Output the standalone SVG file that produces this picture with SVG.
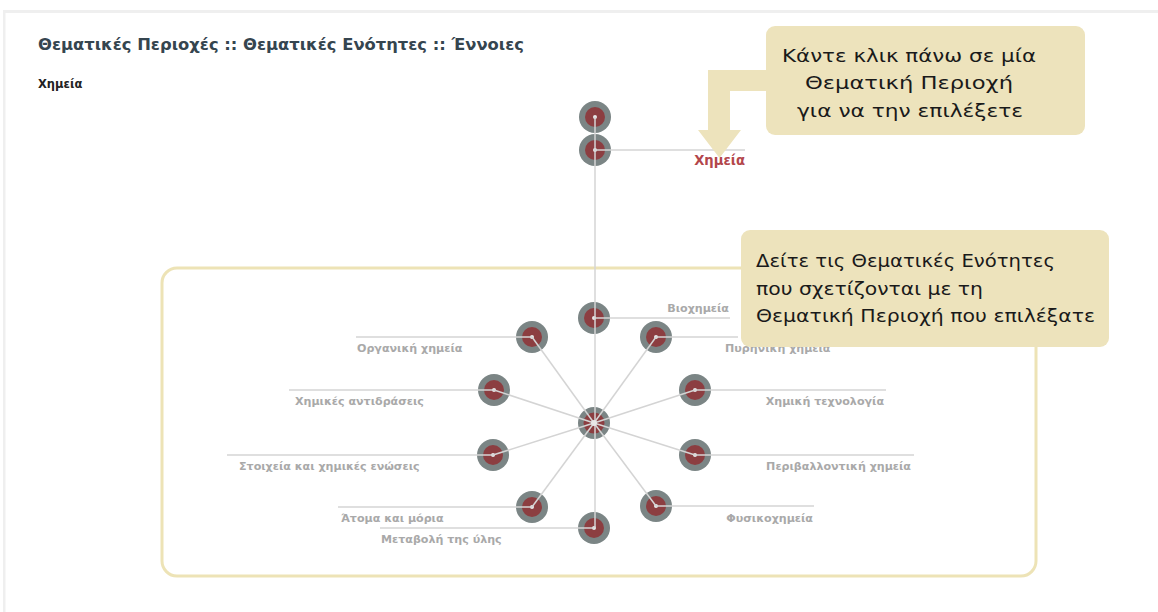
<svg xmlns="http://www.w3.org/2000/svg" width="1158" height="612" viewBox="0 0 1158 612">
<defs>
<style>
.lbl{font-family:"DejaVu Sans",Verdana,sans-serif;font-size:11.1px;font-weight:bold;fill:#a9a9a9}
.ln{stroke:#d4d4d4;stroke-width:1.5;fill:none}
.outer{fill:#7b8585}
.inner{fill:#8c3e41}
.dot{fill:#e8e8e8}
.callout{fill:#ede3bc}
.ct{font-family:"DejaVu Sans","Noto Sans",sans-serif;font-size:18px;fill:#1a1a1a}
</style>
<g id="nodeShape">
<circle r="16" class="outer"/>
<circle r="10" class="inner"/>
<circle r="2" class="dot"/>
</g>
</defs>
<rect width="1158" height="612" fill="#ffffff"/>
<rect x="3" y="10" width="1155" height="3" fill="#efefef"/>
<rect x="3" y="10" width="2.5" height="602" fill="#efefef"/>
<text x="38" y="50" font-family="'DejaVu Sans',Verdana,sans-serif" font-size="15" font-weight="bold" fill="#35454f" textLength="486" lengthAdjust="spacingAndGlyphs">Θεματικές Περιοχές :: Θεματικές Ενότητες :: Έννοιες</text>
<text x="38" y="88" font-family="'DejaVu Sans',Verdana,sans-serif" font-size="11.5" font-weight="bold" fill="#222">Χημεία</text>
<rect id="frame" x="162" y="268" width="874" height="308" rx="15" fill="none" stroke="#ede3b6" stroke-width="3"/>

<g id="nodes">
<g id="n-top"><use href="#nodeShape" x="595" y="117"/></g>
<g id="n-chem"><use href="#nodeShape" x="595" y="150"/><text x="745" y="165" text-anchor="end" font-family="'DejaVu Sans',Verdana,sans-serif" font-size="13.2" font-weight="bold" fill="#b3464b">Χημεία</text></g>
<g id="n-hub"><circle cx="594" cy="423" r="16" class="outer"/><circle cx="594" cy="423" r="10.5" class="inner"/></g>
<g id="n-bio"><use href="#nodeShape" x="594" y="318"/><text x="729" y="312" text-anchor="end" class="lbl">Βιοχημεία</text></g>
<g id="n-nuc"><use href="#nodeShape" x="656" y="337"/><text x="725" y="352" class="lbl">Πυρηνική χημεία</text></g>
<g id="n-tech"><use href="#nodeShape" x="695" y="390"/><text x="884" y="405" text-anchor="end" class="lbl">Χημική τεχνολογία</text></g>
<g id="n-env"><use href="#nodeShape" x="695" y="455"/><text x="911" y="470" text-anchor="end" class="lbl">Περιβαλλοντική χημεία</text></g>
<g id="n-phys"><use href="#nodeShape" x="656" y="506"/><text x="813" y="522" text-anchor="end" class="lbl">Φυσικοχημεία</text></g>
<g id="n-matter"><use href="#nodeShape" x="594" y="528"/><text x="381" y="543" class="lbl">Μεταβολή της ύλης</text></g>
<g id="n-atoms"><use href="#nodeShape" x="532" y="507"/><text x="341" y="522" class="lbl">Άτομα και μόρια</text></g>
<g id="n-elem"><use href="#nodeShape" x="493" y="455"/><text x="239" y="470" class="lbl">Στοιχεία και χημικές ενώσεις</text></g>
<g id="n-react"><use href="#nodeShape" x="494" y="390"/><text x="295" y="405" class="lbl">Χημικές αντιδράσεις</text></g>
<g id="n-org"><use href="#nodeShape" x="532" y="337"/><text x="357" y="352" class="lbl">Οργανική χημεία</text></g>
</g>

<g id="connectors" class="ln">
<line x1="595" y1="117" x2="595" y2="528"/>
<line x1="595" y1="150" x2="745" y2="150"/>
<line x1="594" y1="318" x2="730" y2="318"/>
<line x1="656" y1="337" x2="738" y2="337"/>
<line x1="695" y1="390" x2="886" y2="390"/>
<line x1="695" y1="455" x2="914" y2="455"/>
<line x1="656" y1="506" x2="814" y2="506"/>
<line x1="380" y1="528" x2="594" y2="528"/>
<line x1="338" y1="507" x2="532" y2="507"/>
<line x1="227" y1="455" x2="493" y2="455"/>
<line x1="289" y1="390" x2="494" y2="390"/>
<line x1="356" y1="337" x2="532" y2="337"/>
<line x1="594" y1="423" x2="656" y2="337"/>
<line x1="594" y1="423" x2="695" y2="390"/>
<line x1="594" y1="423" x2="695" y2="455"/>
<line x1="594" y1="423" x2="656" y2="506"/>
<line x1="594" y1="423" x2="532" y2="507"/>
<line x1="594" y1="423" x2="493" y2="455"/>
<line x1="594" y1="423" x2="494" y2="390"/>
<line x1="594" y1="423" x2="532" y2="337"/>
</g>
<circle cx="594" cy="423" r="3" fill="#e8e8e8"/>

<g id="callout1">
<path class="callout" d="M708,70 H767 V91 H730 V130 H741 L719.5,158 L698,130 H708 Z"/>
<rect class="callout" x="766" y="26" width="319" height="109" rx="9"/>
<text class="ct" x="782" y="62" textLength="254" lengthAdjust="spacingAndGlyphs">Κάντε κλικ πάνω σε μία</text>
<text class="ct" x="805" y="89" textLength="208" lengthAdjust="spacingAndGlyphs">Θεματική Περιοχή</text>
<text class="ct" x="797" y="117" textLength="226" lengthAdjust="spacingAndGlyphs">για να την επιλέξετε</text>
</g>
<g id="callout2">
<rect class="callout" x="741" y="230" width="368" height="117" rx="9"/>
<text class="ct" x="756" y="267" textLength="299" lengthAdjust="spacingAndGlyphs">Δείτε τις Θεματικές Ενότητες</text>
<text class="ct" x="756" y="295" textLength="227" lengthAdjust="spacingAndGlyphs">που σχετίζονται με τη</text>
<text class="ct" x="756" y="322" textLength="339" lengthAdjust="spacingAndGlyphs">Θεματική Περιοχή που επιλέξατε</text>
</g>
</svg>
